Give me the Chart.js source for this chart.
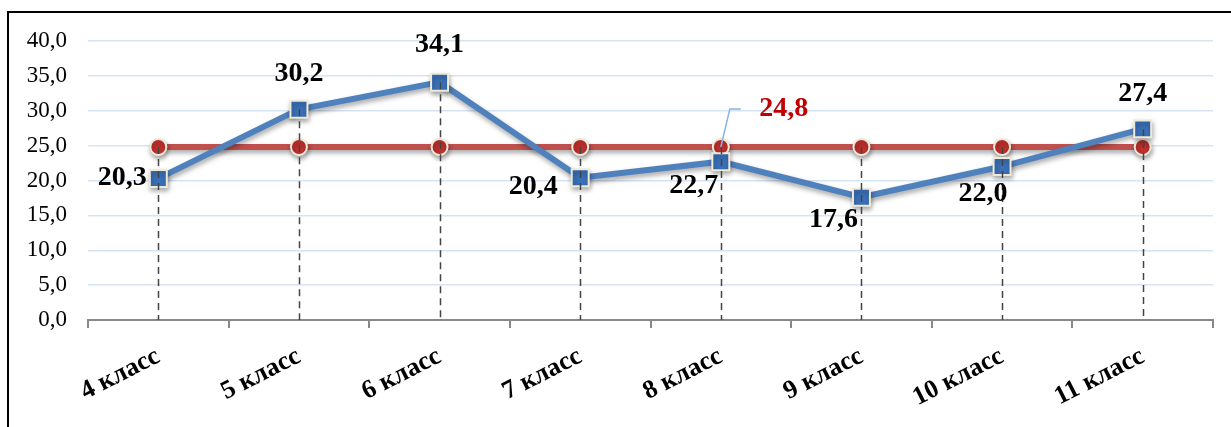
<!DOCTYPE html>
<html>
<head>
<meta charset="utf-8">
<script src="https://cdn.jsdelivr.net/npm/chart.js@4"></script>
<style>
  html, body { margin: 0; padding: 0; background: #fff; }
  #wrap { position: relative; width: 1231px; height: 427px; overflow: hidden; }
  #frame { position: absolute; left: 7px; top: 11px; width: 1300px; height: 500px; border: 2px solid #000; box-sizing: border-box; }
  canvas { position: absolute; left: 0; top: 0; }
</style>
</head>
<body>
<div id="wrap">
  <div id="frame"></div>
  <canvas id="chart" width="1231" height="427"></canvas>
</div>
<script>
// Данные
const categories = ['4 класс', '5 класс', '6 класс', '7 класс', '8 класс', '9 класс', '10 класс', '11 класс'];
const scores = [20.3, 30.2, 34.1, 20.4, 22.7, 17.6, 22.0, 27.4];
const averageValue = 24.8;
const averageLine = categories.map(() => averageValue);
const yTicks = [0, 5, 10, 15, 20, 25, 30, 35, 40];

// Смещения подписей (пиксели относительно точки)
const labelOffsets = [
    [-36, -1], [0, -36], [0, -37], [-47, 9],
    [-27, 24], [-28, 23], [-19, 27], [0, -35]
];

const fmt = v => v.toFixed(1).replace('.', ',');

// Тень для линий и маркеров
const shadowPlugin = {
    id: 'shadow',
    beforeDatasetDraw(chart) {
        const c = chart.ctx;
        c.save();
        c.shadowColor = 'rgba(0,0,0,0.35)';
        c.shadowBlur = 5;
        c.shadowOffsetX = 1;
        c.shadowOffsetY = 3;
    },
    afterDatasetDraw(chart) {
        chart.ctx.restore();
    }
};

// Пунктирные линии проекции и подписи
const overlayPlugin = {
    id: 'overlay',
    afterDatasetsDraw(chart) {
        const c = chart.ctx;
        const y = chart.scales.y;
        const blue = chart.getDatasetMeta(0).data;
        const red = chart.getDatasetMeta(1).data;

        c.save();
        c.strokeStyle = '#444';
        c.lineWidth = 1.5;
        c.setLineDash([7, 5]);
        blue.forEach((pt, i) => {
            const top = Math.min(pt.y, red[i].y);
            c.beginPath();
            c.moveTo(Math.round(pt.x) + 0.5, top);
            c.lineTo(Math.round(pt.x) + 0.5, y.getPixelForValue(0));
            c.stroke();
        });
        c.restore();

        c.save();
        c.font = 'bold 28px "Liberation Serif", "Times New Roman", serif';
        c.textAlign = 'center';
        c.textBaseline = 'middle';
        c.fillStyle = '#000';
        blue.forEach((pt, i) => {
            c.fillText(fmt(scores[i]), pt.x + labelOffsets[i][0], pt.y + labelOffsets[i][1]);
        });

        // подпись среднего значения с выноской
        const ap = red[4];
        c.strokeStyle = '#8db3e2';
        c.lineWidth = 1.5;
        c.beginPath();
        c.moveTo(ap.x, ap.y);
        c.lineTo(ap.x + 9, ap.y - 38);
        c.lineTo(ap.x + 20, ap.y - 38);
        c.stroke();
        c.fillStyle = '#c00000';
        c.fillText(fmt(averageValue), ap.x + 63, ap.y - 38);
        c.restore();
    }
};

new Chart(document.getElementById('chart'), {
    type: 'line',
    data: {
        labels: categories,
        datasets: [{
            data: scores,
            borderColor: '#4f81bd',
            borderWidth: 6,
            pointStyle: 'rect',
            pointRadius: 12,
            pointBackgroundColor: '#3a70b8',
            pointBorderColor: '#eee9d8',
            pointBorderWidth: 2,
            tension: 0
        }, {
            data: averageLine,
            borderColor: '#c0504d',
            borderWidth: 6,
            pointStyle: 'circle',
            pointRadius: 8,
            pointBackgroundColor: '#c0302d',
            pointBorderColor: '#eee9d8',
            pointBorderWidth: 2,
            tension: 0
        }]
    },
    options: {
        responsive: false,
        animation: false,
        events: [],
        layout: { padding: { top: 41, right: 18, left: 0, bottom: 0 } },
        plugins: {
            legend: { display: false },
            tooltip: { enabled: false }
        },
        scales: {
            x: {
                offset: true,
                grid: {
                    offset: true,
                    drawOnChartArea: false,
                    drawTicks: true,
                    tickLength: 8,
                    color: '#888',
                    lineWidth: 2
                },
                border: { color: '#888', width: 2 },
                ticks: {
                    minRotation: 27,
                    maxRotation: 27,
                    padding: 13,
                    color: '#000',
                    font: { family: '"Liberation Serif", "Times New Roman", serif', size: 26, weight: 'bold' }
                },
                afterFit(axis) { axis.height = 107; }
            },
            y: {
                min: 0,
                max: 40,
                afterBuildTicks(axis) { axis.ticks = yTicks.map(v => ({ value: v })); },
                grid: { color: '#d6e3f3', lineWidth: 1.5, drawTicks: false },
                border: { display: false },
                ticks: {
                    padding: 21,
                    color: '#000',
                    font: { family: '"Liberation Serif", "Times New Roman", serif', size: 23 },
                    callback: v => fmt(v)
                },
                afterFit(axis) { axis.width = 88; }
            }
        }
    },
    plugins: [shadowPlugin, overlayPlugin]
});
</script>
</body>
</html>
